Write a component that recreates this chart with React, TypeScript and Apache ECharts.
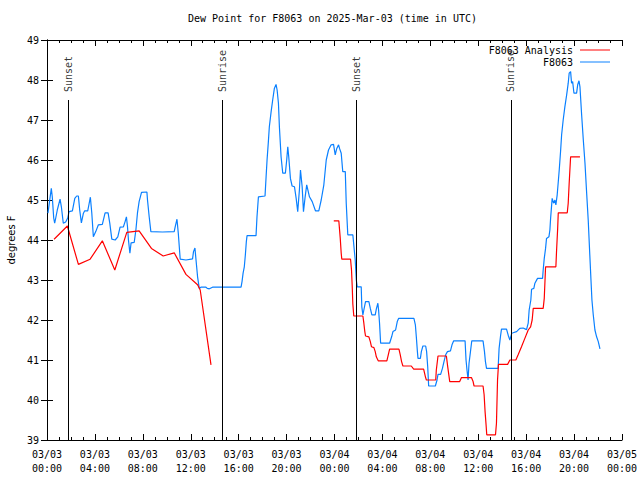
import React, { useEffect, useRef } from "react";
import * as echarts from "echarts";

// hours since 2025-03-03 00:00 UTC, dew point (°F)
const f8063: [number, number][] = [
  [0.08, 44.67], [0.36, 45.29], [0.44, 45.08], [0.56, 44.55], [0.64, 44.42], [0.73, 44.55], [0.86, 44.75],
  [1.09, 45.02], [1.2, 44.83], [1.36, 44.42], [1.56, 44.45], [1.73, 44.55], [1.84, 44.71], [2.12, 44.73],
  [2.32, 45.04], [2.48, 45.1], [2.62, 45.1], [2.73, 44.75], [2.87, 44.43], [3.04, 44.67], [3.15, 44.73],
  [3.4, 44.73], [3.51, 44.9], [3.62, 45.07], [3.74, 44.67], [3.87, 44.08], [4.07, 44.21], [4.29, 44.38],
  [4.62, 44.39], [4.85, 44.68], [5.1, 44.68], [5.24, 44.42], [5.41, 44.02], [5.69, 44.0], [5.91, 44.08],
  [6.1, 44.32], [6.38, 44.33], [6.52, 44.46], [6.63, 44.58], [6.72, 44.33], [6.8, 44.0], [6.92, 43.67],
  [7.02, 43.93], [7.28, 43.94], [7.42, 44.25], [7.55, 44.67], [7.69, 44.96], [7.89, 45.19], [8.34, 45.2],
  [8.39, 45.0], [8.53, 44.58], [8.67, 44.21], [9.64, 44.2], [10.62, 44.21], [10.7, 44.33], [10.85, 44.52],
  [10.96, 44.17], [11.12, 43.52], [11.6, 43.5], [12.15, 43.53], [12.23, 43.71], [12.35, 43.8], [12.44, 43.5],
  [12.57, 43.08], [12.71, 42.79], [12.85, 42.82], [13.27, 42.82], [13.38, 42.79], [13.55, 42.78], [13.82, 42.82],
  [16.2, 42.82], [16.28, 42.96], [16.37, 43.17], [16.47, 43.33], [16.56, 43.63], [16.64, 43.96], [16.7, 44.11],
  [17.45, 44.11], [17.53, 44.58], [17.65, 45.08], [18.2, 45.1], [18.29, 45.58], [18.37, 46.0], [18.48, 46.46],
  [18.56, 46.83], [18.71, 47.21], [18.84, 47.5], [18.98, 47.79], [19.12, 47.89], [19.21, 47.75], [19.32, 47.42],
  [19.4, 46.83], [19.54, 46.08], [19.68, 45.67], [19.9, 45.67], [20.01, 46.0], [20.1, 46.33], [20.18, 46.08],
  [20.32, 45.54], [20.46, 45.35], [20.66, 45.33], [20.8, 45.04], [20.93, 44.71], [21.07, 45.25], [21.16, 45.75],
  [21.3, 45.33], [21.41, 44.71], [21.55, 45.08], [21.68, 45.38], [21.91, 45.08], [22.14, 44.96], [22.41, 44.73],
  [22.69, 44.73], [22.89, 45.0], [23.11, 45.38], [23.31, 46.0], [23.5, 46.25], [23.72, 46.38], [23.92, 46.39],
  [24.06, 46.13], [24.19, 46.29], [24.34, 46.38], [24.42, 46.29], [24.56, 46.17], [24.69, 45.71], [24.9, 45.71],
  [24.98, 44.92], [25.11, 44.13], [25.53, 44.13], [25.73, 43.5], [25.82, 43.0], [25.9, 42.83], [26.23, 42.83],
  [26.28, 42.33], [26.37, 42.13], [26.45, 42.25], [26.59, 42.46], [26.87, 42.46], [26.99, 42.29], [27.12, 42.13],
  [27.4, 42.13], [27.49, 42.27], [27.62, 42.42], [27.68, 42.25], [27.76, 41.92], [27.85, 41.42], [28.6, 41.42],
  [28.77, 41.58], [28.88, 41.71], [29.1, 41.75], [29.24, 41.96], [29.35, 42.04], [30.63, 42.04], [30.75, 41.88],
  [30.83, 41.58], [30.92, 41.21], [30.97, 41.04], [31.17, 41.04], [31.25, 41.21], [31.38, 41.35], [31.61, 41.35],
  [31.69, 41.21], [31.78, 40.83], [31.86, 40.35], [32.42, 40.35], [32.56, 40.5], [32.64, 40.64], [32.86, 40.64],
  [33.01, 40.79], [33.14, 40.96], [33.28, 41.13], [33.43, 41.21], [33.68, 41.23], [33.81, 41.38], [33.95, 41.48],
  [34.9, 41.48], [34.98, 41.0], [35.06, 40.75], [35.15, 40.5], [35.23, 40.92], [35.35, 41.21], [35.46, 41.48],
  [36.4, 41.48], [36.52, 41.21], [36.6, 40.96], [36.69, 40.79], [37.66, 40.79], [37.74, 41.29], [37.86, 41.6],
  [37.94, 41.77], [38.36, 41.77], [38.5, 41.62], [38.64, 41.5], [38.8, 41.67], [38.91, 41.68], [39.2, 41.71],
  [39.47, 41.79], [39.75, 41.8], [40.03, 41.76], [40.17, 41.92], [40.25, 42.25], [40.39, 42.5], [40.45, 42.77],
  [40.64, 42.79], [40.73, 42.92], [40.95, 43.04], [41.37, 43.04], [41.42, 43.25], [41.51, 43.54], [41.62, 43.79],
  [41.7, 44.04], [41.9, 44.08], [41.98, 44.25], [42.04, 44.54], [42.17, 45.04], [42.29, 44.92], [42.4, 45.0],
  [42.48, 44.88], [42.59, 45.13], [42.67, 45.42], [42.76, 45.75], [42.88, 46.25], [42.96, 46.63], [43.09, 47.0],
  [43.23, 47.33], [43.38, 47.63], [43.51, 47.92], [43.59, 48.17], [43.71, 48.21], [43.79, 47.92], [43.88, 47.96],
  [43.99, 47.67], [44.21, 47.67], [44.3, 47.88], [44.41, 47.98], [44.49, 47.83], [44.63, 47.13], [44.77, 46.5],
  [44.91, 45.92], [45.05, 45.17], [45.18, 44.5], [45.27, 43.9], [45.41, 43.0], [45.49, 42.5], [45.6, 42.13],
  [45.74, 41.75], [45.88, 41.58], [46.02, 41.46], [46.16, 41.28],
];

const analysisDay1: [number, number][] = [
  [0.59, 44.02], [1.7, 44.35], [2.62, 43.39], [3.6, 43.52], [4.62, 43.98], [5.66, 43.25], [6.66, 44.19],
  [7.69, 44.23], [8.72, 43.79], [9.7, 43.6], [10.62, 43.68], [11.6, 43.14], [12.57, 42.88], [12.79, 42.75],
  [13.69, 40.88],
];

const analysisDay2: [number, number][] = [
  [23.94, 44.48], [24.36, 44.48], [24.48, 44.04], [24.56, 43.67], [24.61, 43.52], [25.34, 43.52], [25.42, 43.25],
  [25.48, 42.83], [25.53, 42.4], [25.61, 42.1], [26.37, 42.1], [26.45, 41.92], [26.53, 41.71], [26.59, 41.6],
  [26.87, 41.58], [26.99, 41.46], [27.09, 41.33], [27.29, 41.31], [27.4, 41.21], [27.49, 41.08], [27.65, 40.98],
  [28.37, 40.98], [28.49, 41.13], [28.6, 41.27], [29.38, 41.27], [29.49, 41.13], [29.6, 40.96], [29.71, 40.85],
  [30.41, 40.85], [30.61, 40.77], [31.44, 40.77], [31.59, 40.58], [31.67, 40.5], [32.45, 40.5], [32.5, 40.75],
  [32.64, 41.1], [33.34, 41.1], [33.43, 40.88], [33.62, 40.46], [34.45, 40.46], [34.6, 40.56], [35.43, 40.56],
  [35.57, 40.46], [35.65, 40.35], [36.4, 40.35], [36.49, 40.13], [36.57, 39.71], [36.66, 39.35], [36.71, 39.13],
  [37.44, 39.13], [37.52, 39.42], [37.61, 40.5], [37.69, 40.89], [38.45, 40.89], [38.64, 41.0], [39.14, 41.0],
  [39.33, 41.13], [39.61, 41.33], [39.89, 41.54], [40.17, 41.75], [40.37, 41.83], [40.5, 42.0], [40.59, 42.29],
  [41.42, 42.29], [41.51, 42.54], [41.62, 43.33], [42.48, 43.33], [42.54, 43.75], [42.63, 44.29], [42.68, 44.68],
  [43.43, 44.68], [43.51, 44.92], [43.59, 45.42], [43.71, 46.08], [44.49, 46.08],
];

const sunEvents = ["Sunset", "Sunrise", "Sunset", "Sunrise"];
const sunHours = [1.76, 14.63, 25.84, 38.72];

const xTickLabels = [
  "03/03\n00:00", "03/03\n04:00", "03/03\n08:00", "03/03\n12:00", "03/03\n16:00", "03/03\n20:00",
  "03/04\n00:00", "03/04\n04:00", "03/04\n08:00", "03/04\n12:00", "03/04\n16:00", "03/04\n20:00",
  "03/05\n00:00",
];

const MONO = "DejaVu Sans Mono";

export default function App() {
  const ref = useRef<HTMLDivElement>(null);
  useEffect(() => {
    if (!ref.current) return;
    const chart = echarts.init(ref.current, null, { renderer: "svg" });
    const analysis: any[] = [...analysisDay1, ["-", "-"], ...analysisDay2];
    const xCommon = {
      type: "value",
      min: 0,
      max: 48,
      interval: 4,
      splitLine: { show: false },
      axisLine: { show: true, lineStyle: { color: "#000", width: 1 } },
      axisTick: { show: true, inside: true, length: 6, lineStyle: { color: "#000" } },
      minorTick: { show: true, splitNumber: 4, length: 3, lineStyle: { color: "#000" } },
    };
    const yCommon = {
      type: "value",
      min: 39,
      max: 49,
      interval: 1,
      splitLine: { show: false },
      axisLine: { show: true, lineStyle: { color: "#000", width: 1 } },
      axisTick: { show: true, inside: true, length: 6, lineStyle: { color: "#000" } },
    };
    chart.setOption({
      animation: false,
      backgroundColor: "#fff",
      title: {
        text: "Dew Point for F8063 on 2025-Mar-03 (time in UTC)",
        left: 183,
        top: 8,
        textStyle: { fontFamily: MONO, fontSize: 10, fontWeight: "normal", color: "#000" },
      },
      legend: {
        orient: "vertical",
        right: 25,
        top: 40,
        align: "right",
        icon: "rect",
        itemWidth: 30,
        itemHeight: 1,
        itemGap: 2,
        data: ["F8063 Analysis", "F8063"],
        textStyle: { fontFamily: MONO, fontSize: 10, color: "#000", padding: [0, 2, 0, 0] },
      },
      grid: { left: 47, right: 18, top: 40, bottom: 40, containLabel: false, outerBoundsMode: "none" },
      xAxis: [
        {
          ...xCommon,
          position: "bottom",
          axisLabel: {
            fontFamily: MONO,
            fontSize: 10,
            color: "#000",
            lineHeight: 14,
            margin: 7,
            formatter: (v: number) => xTickLabels[Math.round(v / 4)] ?? "",
          },
        },
        { ...xCommon, position: "top", axisLabel: { show: false } },
      ],
      yAxis: [
        {
          ...yCommon,
          position: "left",
          name: "degrees F",
          nameLocation: "middle",
          nameGap: 31,
          nameTextStyle: { fontFamily: "DejaVu Sans", fontSize: 10, color: "#000" },
          axisLabel: { fontFamily: MONO, fontSize: 10, color: "#000", margin: 8 },
        },
        { ...yCommon, position: "right", axisLabel: { show: false } },
      ],
      series: [
        {
          name: "F8063 Analysis",
          type: "line",
          data: analysis,
          symbol: "none",
          connectNulls: false,
          lineStyle: { color: "#ff0000", width: 1.2 },
          itemStyle: { color: "#ff0000" },
          z: 3,
        },
        {
          name: "F8063",
          type: "line",
          data: f8063,
          symbol: "none",
          lineStyle: { color: "#0a80ff", width: 1.2 },
          itemStyle: { color: "#0a80ff" },
          z: 2,
        },
        {
          name: "sun",
          type: "scatter",
          symbolSize: 0,
          data: sunHours.map((h, i) => ({ value: [h, 47.5], name: sunEvents[i] })),
          label: {
            show: true,
            formatter: (p: any) => p.name,
            position: [0, -8],
            rotate: 90,
            align: "left",
            verticalAlign: "middle",
            fontFamily: MONO,
            fontSize: 10,
            color: "#000",
          },
          markLine: {
            silent: true,
            symbol: ["none", "none"],
            label: { show: false },
            lineStyle: { color: "#000", width: 1, type: "solid" },
            data: sunHours.map((h) => [{ coord: [h, 39] }, { coord: [h, 47.5] }]),
          },
          z: 1,
        },
      ],
    });
    return () => chart.dispose();
  }, []);
  return (
    <div
      ref={ref}
      style={{ position: "fixed", left: 0, top: 0, width: 640, height: 480, background: "#fff" }}
    />
  );
}
